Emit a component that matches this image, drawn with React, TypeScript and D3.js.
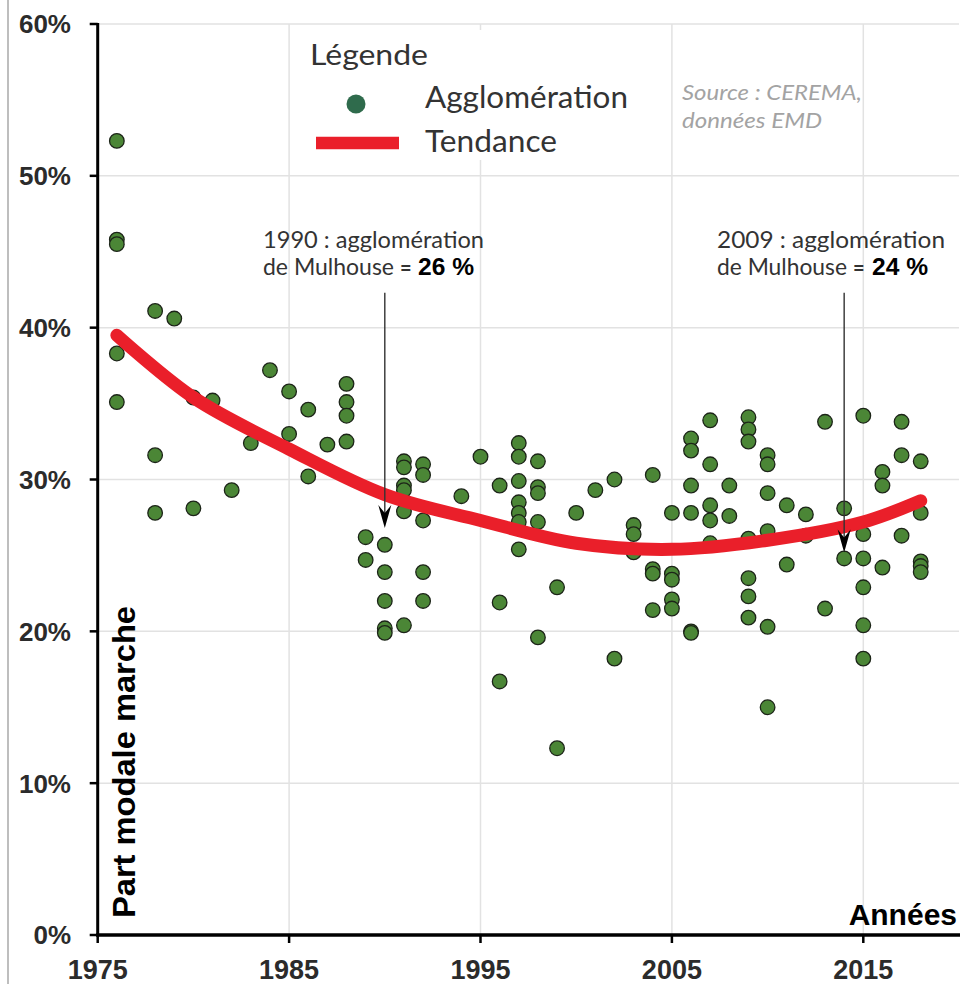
import React from "react";
import * as d3 from "d3";

// Scatter points: year and walking modal share (%) per agglomeration survey
const pointYears = [
  1976, 1976, 1976, 1976, 1976,
  1978, 1978, 1978,
  1979,
  1980, 1980,
  1981,
  1982,
  1983,
  1984,
  1985, 1985,
  1986, 1986,
  1987,
  1988, 1988, 1988, 1988,
  1989, 1989,
  1990, 1990, 1990, 1990, 1990,
  1991, 1991, 1991, 1991, 1991, 1991,
  1992, 1992, 1992, 1992, 1992,
  1994,
  1995,
  1996, 1996, 1996,
  1997, 1997, 1997, 1997, 1997, 1997, 1997,
  1998, 1998, 1998, 1998, 1998,
  1999, 1999,
  2000,
  2001,
  2002, 2002,
  2003, 2003, 2003,
  2004, 2004, 2004, 2004,
  2005, 2005, 2005, 2005, 2005,
  2006, 2006, 2006, 2006, 2006, 2006,
  2007, 2007, 2007, 2007, 2007,
  2008, 2008,
  2009, 2009, 2009, 2009, 2009, 2009, 2009,
  2010, 2010, 2010, 2010, 2010, 2010,
  2011, 2011,
  2012, 2012,
  2013, 2013,
  2014, 2014,
  2015, 2015, 2015, 2015, 2015, 2015,
  2016, 2016, 2016,
  2017, 2017, 2017,
  2018, 2018, 2018, 2018, 2018,
];
const pointShares = [
  52.3, 45.8, 45.5, 38.3, 35.1,
  41.1, 31.6, 27.8,
  40.6,
  35.4, 28.1,
  35.2,
  29.3,
  32.4,
  37.2,
  35.8, 33.0,
  34.6, 30.2,
  32.3,
  36.3, 35.1, 34.2, 32.5,
  26.2, 24.7,
  25.7, 23.9, 22.0, 20.2, 19.9,
  31.2, 30.8, 29.6, 29.3, 27.9, 20.4,
  31.0, 30.3, 27.3, 23.9, 22.0,
  28.9,
  31.5,
  29.6, 21.9, 16.7,
  32.4, 31.5, 29.9, 28.5, 27.8, 27.2, 25.4,
  31.2, 29.5, 29.1, 27.2, 19.6,
  22.9, 12.3,
  27.8,
  29.3,
  30.0, 18.2,
  27.0, 26.4, 25.2,
  30.3, 24.1, 23.8, 21.4,
  27.8, 23.8, 23.4, 22.1, 21.5,
  32.7, 31.9, 29.6, 27.8, 20.0, 19.9,
  33.9, 31.0, 28.3, 27.3, 25.8,
  29.6, 27.6,
  34.1, 33.3, 32.5, 26.1, 23.5, 22.3, 20.9,
  31.6, 31.0, 29.1, 26.6, 20.3, 15.0,
  28.3, 24.4,
  27.7, 26.3,
  33.8, 21.5,
  28.1, 24.8,
  34.2, 26.4, 24.8, 22.9, 20.4, 18.2,
  30.5, 29.6, 24.2,
  33.8, 31.6, 26.3,
  31.2, 27.8, 24.6, 24.3, 23.9,
];

// Trend curve
const trendYears = [1976, 1980, 1985, 1990, 1995, 2000, 2005, 2010, 2015, 2018];
const trendShares = [39.5, 35.4, 32.0, 29.0, 27.3, 25.8, 25.4, 26.0, 27.2, 28.6];

const xTickYears = [1975, 1985, 1995, 2005, 2015];
const xGridYears = [1985, 1995, 2005, 2015];
const yTickValues = [0, 10, 20, 30, 40, 50, 60];
const yGridValues = [10, 20, 30, 40, 50, 60];

// Annotations: arrow year, arrow start / tip values, texts
const annotationYears = [1990, 2014];
const annotationFrom = [42.3, 42.3];
const annotationTo = [26.8, 25.2];
const annotationLine1 = ["1990 : agglomération", "2009 : agglomération"];
const annotationValue = ["26 %", "24 %"];

const W = 962;
const H = 984;

export default function App() {
  const x = d3.scaleLinear().domain([1975, 2020]).range([97.7, 959]);
  const y = d3.scaleLinear().domain([0, 60]).range([935, 24]);

  const trendPts: [number, number][] = trendYears.map((yr, i) => [yr, trendShares[i]]);
  const trendPath = d3
    .line<[number, number]>()
    .x((d) => x(d[0]))
    .y((d) => y(d[1]))
    .curve(d3.curveCatmullRom.alpha(0.5))(trendPts) as string;

  const numFont = "'Liberation Sans', Arial, sans-serif";
  const txtFont = "Lato, 'Open Sans', sans-serif";
  const annX = [263, 717];
  const annMulEnd = [394, 847];
  const annValX = [418, 872];

  return (
    <svg
      width={W}
      height={H}
      viewBox={`0 0 ${W} ${H}`}
      style={{ position: "absolute", left: 0, top: 0, display: "block", background: "#fff" }}
    >
      <rect x={0} y={0} width={W} height={H} fill="#fff" />
      {/* left frame line */}
      <line x1={8} x2={8} y1={0} y2={H} stroke="#a8a8a8" strokeWidth={1.5} />

      {/* grid */}
      {yGridValues.map((v) => (
        <line key={"gy" + v} x1={x(1975)} x2={x(2020)} y1={y(v)} y2={y(v)} stroke="#e2e2e2" strokeWidth={1.5} />
      ))}
      {xGridYears.map((yr) => (
        <line key={"gx" + yr} x1={x(yr)} x2={x(yr)} y1={y(60)} y2={y(0)} stroke="#e2e2e2" strokeWidth={1.5} />
      ))}

      {/* legend background */}
      <rect x={300} y={30} width={350} height={130} fill="#fff" />

      {/* points */}
      {pointYears.map((yr, i) => (
        <circle
          key={"p" + i}
          cx={x(yr)}
          cy={y(pointShares[i])}
          r={7.3}
          fill="#4b8636"
          stroke="#1c2418"
          strokeWidth={1.3}
        />
      ))}

      {/* trend */}
      <path d={trendPath} fill="none" stroke="#ea1f2a" strokeWidth={13} strokeLinecap="round" />

      {/* axes */}
      <line x1={x(1975)} x2={x(1975)} y1={y(60) - 1} y2={y(0) + 1.5} stroke="#000" strokeWidth={3} />
      <line x1={x(1975) - 1.5} x2={960} y1={y(0)} y2={y(0)} stroke="#000" strokeWidth={3.5} />
      {yTickValues.map((v) => (
        <g key={"yt" + v}>
          <line x1={x(1975) - 8} x2={x(1975)} y1={y(v)} y2={y(v)} stroke="#000" strokeWidth={2.5} />
          <text
            x={71}
            y={y(v)}
            dy="0.36em"
            textAnchor="end"
            fontFamily={numFont}
            fontWeight="bold"
            fontSize={26}
            fill="#2b2b2b"
          >
            {v + "%"}
          </text>
        </g>
      ))}
      {xTickYears.map((yr) => (
        <g key={"xt" + yr}>
          <line x1={x(yr)} x2={x(yr)} y1={y(0)} y2={y(0) + 8} stroke="#000" strokeWidth={2.5} />
          <text
            x={x(yr)}
            y={979}
            textAnchor="middle"
            fontFamily={numFont}
            fontWeight="bold"
            fontSize={27}
            fill="#2b2b2b"
          >
            {yr}
          </text>
        </g>
      ))}

      {/* axis titles */}
      <text
        transform={`translate(135,918) rotate(-90)`}
        fontFamily={numFont}
        fontWeight="bold"
        fontSize={32}
        fill="#000"
        textLength={312}
        lengthAdjust="spacingAndGlyphs"
      >
        Part modale marche
      </text>
      <text x={957} y={925} textAnchor="end" fontFamily={numFont} fontWeight="bold" fontSize={30} fill="#000">
        Années
      </text>

      {/* legend */}
      <text x={310} y={65} fontFamily={txtFont} fontSize={29} fill="#333" textLength={118} lengthAdjust="spacingAndGlyphs">
        Légende
      </text>
      <circle cx={356} cy={104} r={9.5} fill="#2f6b4c" />
      <text x={425} y={108} fontFamily={txtFont} fontSize={30} fill="#333" textLength={203} lengthAdjust="spacingAndGlyphs">
        Agglomération
      </text>
      <line x1={316} x2={399} y1={143} y2={143} stroke="#ea1f2a" strokeWidth={12.5} />
      <text x={425} y={152} fontFamily={txtFont} fontSize={30} fill="#333" textLength={132} lengthAdjust="spacingAndGlyphs">
        Tendance
      </text>

      {/* source */}
      <text x={682} y={100} fontFamily={txtFont} fontStyle="italic" fontSize={22} fill="#a3a3a3" textLength={180} lengthAdjust="spacingAndGlyphs">
        Source : CEREMA,
      </text>
      <text x={682} y={128} fontFamily={txtFont} fontStyle="italic" fontSize={22} fill="#a3a3a3" textLength={140} lengthAdjust="spacingAndGlyphs">
        données EMD
      </text>

      {/* annotations */}
      {annotationYears.map((yr, i) => {
        const ax = x(yr);
        const y0 = y(annotationFrom[i]);
        const tip = y(annotationTo[i]);
        return (
          <g key={"an" + i}>
            <text x={annX[i]} y={248} fontFamily={txtFont} fontSize={23} fill="#333" textLength={i === 0 ? 221 : 228} lengthAdjust="spacingAndGlyphs">
              {annotationLine1[i]}
            </text>
            <text x={annX[i]} y={275} fontFamily={txtFont} fontSize={23} fill="#333" textLength={annMulEnd[i] - annX[i]} lengthAdjust="spacingAndGlyphs">
              de Mulhouse
            </text>
            <text x={annMulEnd[i] + 6} y={275} fontFamily={txtFont} fontSize={20} fontWeight="bold" fill="#333">
              =
            </text>
            <text x={annValX[i]} y={275} fontFamily={numFont} fontSize={23} fontWeight="bold" fill="#000" textLength={56} lengthAdjust="spacingAndGlyphs">
              {annotationValue[i]}
            </text>
            <line x1={ax} x2={ax} y1={y0} y2={tip - 10} stroke="#333" strokeWidth={1.4} />
            <path
              d={`M${ax},${tip} L${ax - 6.5},${tip - 23} L${ax},${tip - 15} L${ax + 6.5},${tip - 23} Z`}
              fill="#000"
            />
          </g>
        );
      })}
    </svg>
  );
}
